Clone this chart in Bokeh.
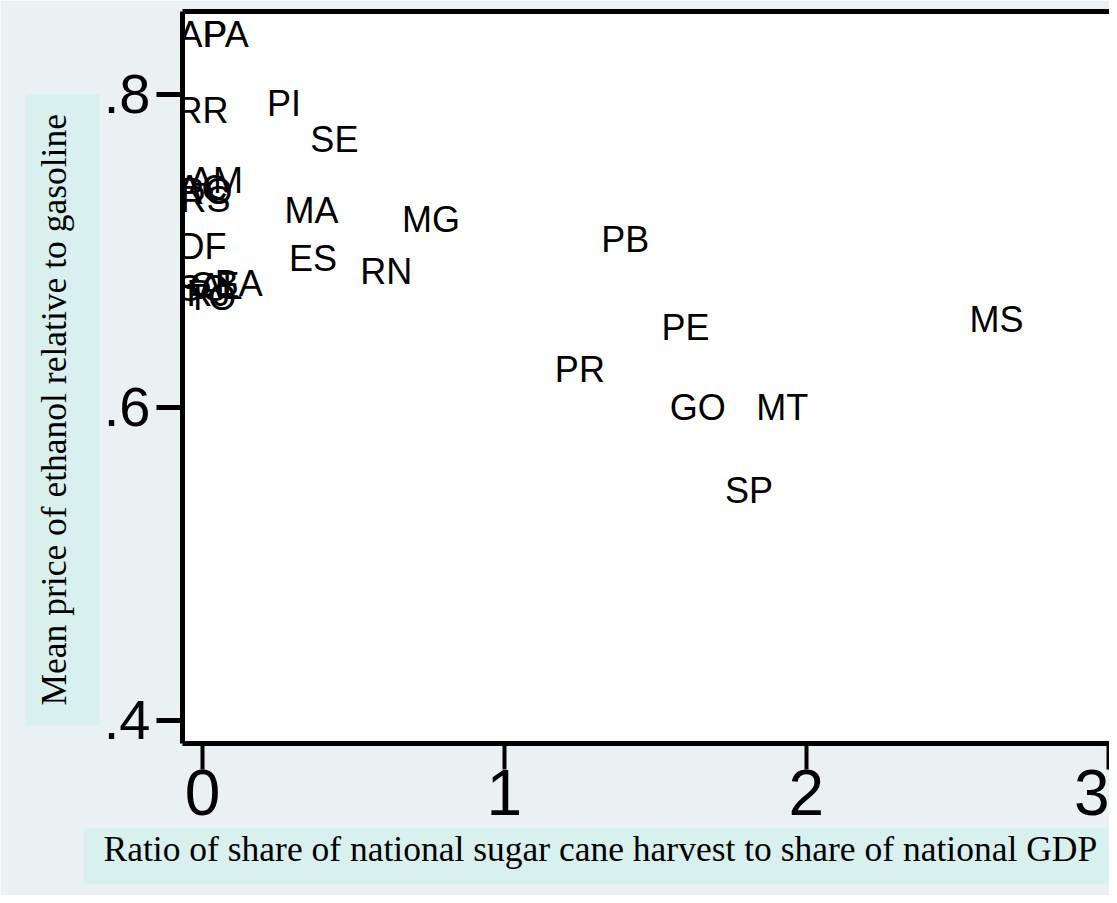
from bokeh.plotting import figure
from bokeh.models import FixedTicker, LinearAxis, Title, Range1d, ColumnDataSource
from bokeh.core.properties import value
from bokeh.embed import file_html
from bokeh.resources import INLINE

# Data
states = ["AP", "PA", "RR", "PI", "SE", "AM", "AC", "RO", "RS", "MA", "MG", "DF", "PB", "ES",
          "RN", "BA", "AL", "SC", "RJ", "CE", "TO", "PE", "MS", "PR", "GO", "MT", "SP"]
ratio = [0.0, 0.078, 0.0, 0.27, 0.437, 0.045, 0.0, 0.01, 0.01, 0.361, 0.757, 0.0, 1.40, 0.366,
         0.609, 0.12, 0.06, 0.0, 0.02, 0.04, 0.03, 1.60, 2.63, 1.25, 1.64, 1.92, 1.81]
price = [0.838, 0.838, 0.790, 0.794, 0.771, 0.745, 0.740, 0.738, 0.733, 0.726, 0.720, 0.703, 0.707, 0.695,
         0.687, 0.679, 0.677, 0.676, 0.673, 0.678, 0.670, 0.651, 0.656, 0.624, 0.600, 0.600, 0.547]

x_ticks = [0, 1, 2, 3]
y_ticks = [0.4, 0.6, 0.8]
y_tick_labels = [".4", ".6", ".8"]

x_title = "Ratio of share of national sugar cane harvest to share of national GDP"
y_title = "Mean price of ethanol relative to gasoline"

BG = "#eaf1f2"
BOX = "#d8f1ee"

p = figure(width=1109, height=895, x_range=Range1d(-0.066, 3.004), y_range=Range1d(0.385, 0.853),
           output_backend="svg", toolbar_location=None,
           min_border_left=182, min_border_top=11, min_border_right=0, min_border_bottom=152)
p.outline_line_color = None
p.grid.visible = False
p.background_fill_color = "white"
p.border_fill_color = BG

src = ColumnDataSource(dict(x=ratio, y=price, t=states))
p.text(x="x", y="y", text="t", source=src, text_align="center", text_baseline="middle",
       text_font=value("Liberation Sans"), text_font_size="36px", text_color="black")

for ax in p.axis:
    ax.axis_line_width = 5
    ax.axis_line_color = "black"
    ax.major_tick_line_color = "black"
    ax.major_tick_in = 0
    ax.minor_tick_line_color = None
    ax.major_label_text_font = "Liberation Sans"
    ax.major_label_text_color = "black"

p.yaxis.ticker = FixedTicker(ticks=y_ticks)
p.yaxis.major_label_overrides = dict(zip(y_ticks, y_tick_labels))
p.yaxis.major_tick_out = 26
p.yaxis.major_tick_line_width = 5
p.yaxis.major_label_text_font_size = "56px"
p.yaxis.major_label_standoff = 6

p.xaxis.ticker = FixedTicker(ticks=x_ticks)
p.xaxis.major_tick_out = 26
p.xaxis.major_tick_line_width = 4
p.xaxis.major_label_text_font_size = "64px"
p.xaxis.major_label_standoff = 0

top = LinearAxis(ticker=FixedTicker(ticks=[]), axis_line_width=5, axis_line_color="black",
                 major_label_text_font_size="0px", minor_tick_line_color=None, major_tick_line_color=None)
p.add_layout(top, "above")

tx = Title(text=x_title, align="left", offset=-99, text_font="Liberation Serif", text_font_size="35.5px",
           text_font_style="normal", text_color="black", background_fill_color=BOX,
           padding=(20, 20, 0, 16), standoff=18)
p.add_layout(tx, "below")
ty = Title(text=y_title, align="left", offset=18, text_font="Liberation Serif", text_font_size="35.5px",
           text_font_style="normal", text_color="black", background_fill_color=BOX,
           padding=(20, 20, 8, 26), standoff=2)
p.add_layout(ty, "left")

open("out.html", "w").write(file_html(p, INLINE))
